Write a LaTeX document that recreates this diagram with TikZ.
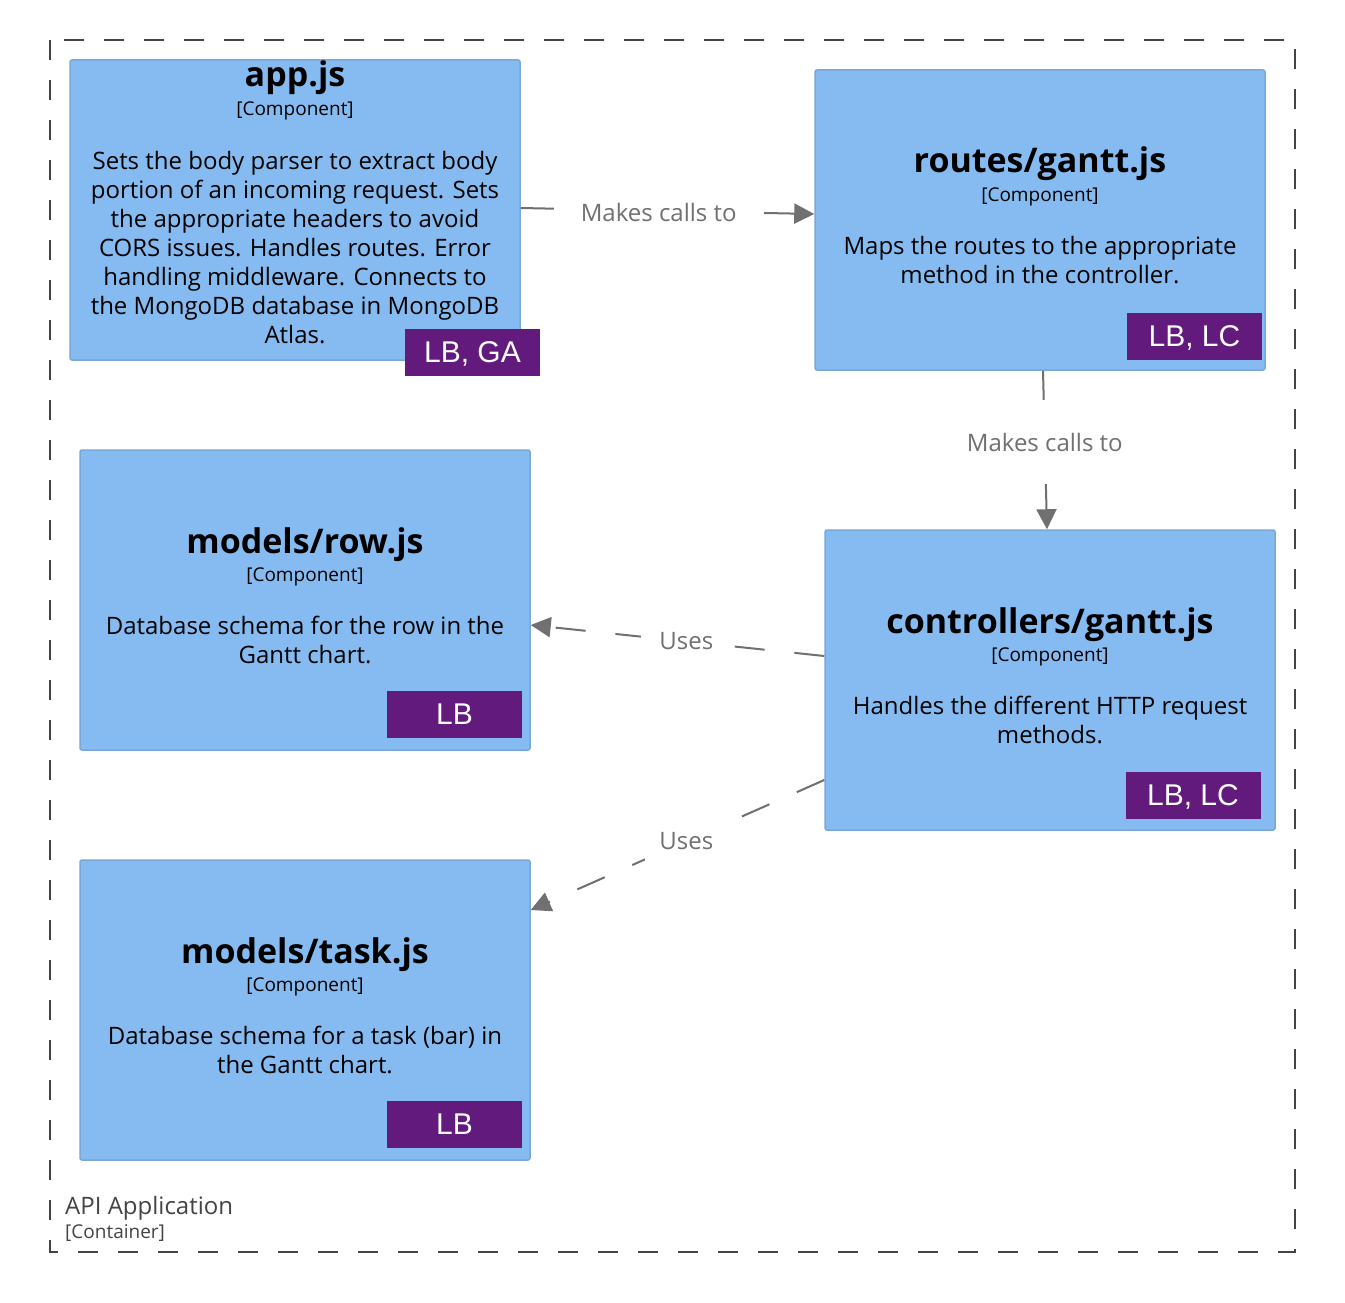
\documentclass[tikz,border=0pt]{standalone}
\usepackage{fontspec}
\setmainfont{Open Sans}
\newfontfamily\tagfont{Liberation Sans}
\usetikzlibrary{arrows.meta}
\definecolor{boxfill}{HTML}{85BBF0}
\definecolor{boxline}{HTML}{78A8D8}
\definecolor{tagfill}{HTML}{621A7D}
\definecolor{edgegray}{HTML}{707070}
\definecolor{contgray}{HTML}{444444}
\begin{document}
\begin{tikzpicture}[x=1pt,y=-1pt,
  box/.style={draw=boxline, line width=1.5pt, fill=boxfill, inner sep=0pt, minimum width=450pt, minimum height=300pt, rounded corners=2pt},
  tagbox/.style={fill=tagfill, text=white, inner sep=0pt, minimum width=135pt, minimum height=47pt, text depth=0pt, font=\tagfont\fontsize{30}{32}\selectfont},
  ttl/.style={anchor=base, font=\fontsize{34}{40}\selectfont\bfseries},
  comp/.style={anchor=base, font=\fontsize{19}{22}\selectfont},
  body/.style={anchor=base, align=center, font=\fontsize{24}{29}\selectfont},
  conn/.style={draw=edgegray, line width=2pt, -{Triangle[length=20pt,width=20pt]}},
  lbl/.style={fill=white, text=edgegray, font=\fontsize{24}{28}\selectfont, inner sep=0pt}
]
\useasboundingbox (0,0) rectangle (1345,1303);
\fill[white] (0,0) rectangle (1345,1303);
% container
\draw[contgray, line width=2pt, dash pattern=on 20pt off 20pt] (50,40) rectangle (1295,1252);
\node[anchor=base west, text=contgray, font=\fontsize{24}{28}\selectfont, inner sep=0pt] (contlbl) at (65,1214) {API Application};
\node[anchor=base west, text=contgray, font=\fontsize{19}{22}\selectfont, inner sep=0pt] (contsub) at (65,1238) {[Container]};

% app.js
\node[box] (app) at (295,210) {};
\node[ttl] (appt) at (295,87) {app.js};
\node[comp] (appc) at (295,116) {[Component]};
\node[body] (appb) at (295,343) {Sets the body parser to extract body\\portion of an incoming request. Sets\\the appropriate headers to avoid\\CORS issues. Handles routes. Error\\handling middleware. Connects to\\the MongoDB database in MongoDB\\Atlas.};
\node[tagbox] (appg) at (472.5,352.5) {LB, GA};

% routes/gantt.js
\node[box] (routes) at (1040,220) {};
\node[ttl] (routest) at (1040,173) {routes/gantt.js};
\node[comp] (routesc) at (1040,201) {[Component]};
\node[body] (routesb) at (1040,283) {Maps the routes to the appropriate\\method in the controller.};
\node[tagbox] (routesg) at (1194.5,336) {LB, LC};

% models/row.js
\node[box] (row) at (305,600) {};
\node[ttl] (rowt) at (305,553) {models/row.js};
\node[comp] (rowc) at (305,581) {[Component]};
\node[body] (rowb) at (305,663) {Database schema for the row in the\\Gantt chart.};
\node[tagbox] (rowg) at (454.5,714.5) {LB};

% controllers/gantt.js
\node[box] (ctrl) at (1050,680) {};
\node[ttl] (ctrlt) at (1050,633) {controllers/gantt.js};
\node[comp] (ctrlc) at (1050,661) {[Component]};
\node[body] (ctrlb) at (1050,743) {Handles the different HTTP request\\methods.};
\node[tagbox] (ctrlg) at (1193,795.5) {LB, LC};

% models/task.js
\node[box] (task) at (305,1010) {};
\node[ttl] (taskt) at (305,963) {models/task.js};
\node[comp] (taskc) at (305,991) {[Component]};
\node[body] (taskb) at (305,1073) {Database schema for a task (bar) in\\the Gantt chart.};
\node[tagbox] (taskg) at (454.5,1124.5) {LB};

% connectors
\draw[conn] ([yshift=2pt]app.east) -- node[lbl, pos=0.47, yshift=-2pt, inner xsep=27pt, inner ysep=12pt] {Makes calls to} ([yshift=6pt]routes.west);
\draw[conn] ([xshift=3pt]routes.south) -- node[lbl, pos=0.45, inner xsep=10pt, inner ysep=33pt] {Makes calls to} ([xshift=-3pt]ctrl.north);
\draw[conn, dash pattern=on 30pt off 30pt] ([yshift=24pt]ctrl.west) -- node[lbl, pos=0.47, inner xsep=18pt, inner ysep=12pt] {Uses} ([yshift=-25pt]row.east);
\draw[conn, dash pattern=on 30pt off 30pt] ([yshift=-100pt]ctrl.west) -- node[lbl, pos=0.47, inner xsep=14pt, inner ysep=14pt] {Uses} ([yshift=100pt]task.east);
\end{tikzpicture}
\end{document}
